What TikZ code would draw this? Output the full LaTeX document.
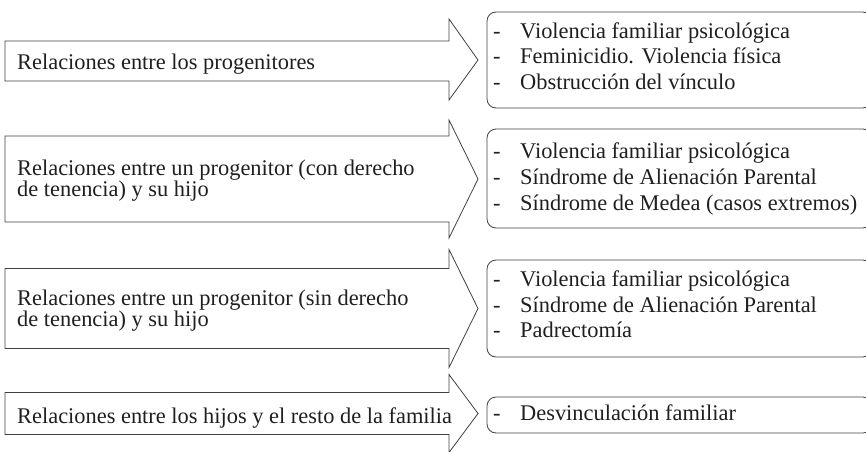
\documentclass[tikz,border=0pt]{standalone}
\usepackage{fontspec}
\setmainfont{Liberation Serif}
\newcommand\listline[3]{%
  \node[lbl] (d#1) at (493,#2) {-};
  \node[lbl] (i#1) at (520,#2) {#3};}
\begin{document}
\begin{tikzpicture}[x=1pt,y=1pt,
  arrowshape/.style={draw=black!75, line width=0.8pt, line join=miter},
  listbox/.style={draw=black!75, line width=0.8pt, rounded corners=9pt},
  lbl/.style={anchor=base west, inner sep=0pt, font=\fontsize{22.4}{16}\selectfont, text=black!88}]
\useasboundingbox (0,0) rectangle (866,451);

% arrows
\draw[arrowshape] (5,410) -- (449,410) -- (449,432) -- (478,391) -- (449,351) -- (449,370) -- (5,370) -- cycle;
\draw[arrowshape] (5,315) -- (449,315) -- (449,331) -- (478,272) -- (449,213) -- (449,229) -- (5,229) -- cycle;
\draw[arrowshape] (5,182.5) -- (449,182.5) -- (449,201.5) -- (478,142.5) -- (449,83.5) -- (449,102.5) -- (5,102.5) -- cycle;
\draw[arrowshape] (5,58.5) -- (449,58.5) -- (449,76.5) -- (478,37.5) -- (449,-1.5) -- (449,16.5) -- (5,16.5) -- cycle;

% boxes
\draw[listbox] (487,439) rectangle (872,343);
\draw[listbox] (487,322) rectangle (872,223);
\draw[listbox] (487,191) rectangle (872,94);
\draw[listbox] (487,54) rectangle (872,18);

% left texts
\node[lbl] (t1) at (17,382) {Relaciones entre los progenitores};
\node[lbl] (t2a) at (17,276) {Relaciones entre un progenitor (con derecho};
\node[lbl] (t2b) at (17,255) {de tenencia) y su hijo};
\node[lbl] (t3a) at (17,146) {Relaciones entre un progenitor (sin derecho};
\node[lbl] (t3b) at (17,125) {de tenencia) y su hijo};
\node[lbl] (t4) at (17,28) {Relaciones entre los hijos y el resto de la familia};

% lists
\listline{11}{413}{Violencia familiar psicológica}
\listline{12}{387.5}{Feminicidio. Violencia física}
\listline{13}{362}{Obstrucción del vínculo}
\listline{21}{293}{Violencia familiar psicológica}
\listline{22}{267}{Síndrome de Alienación Parental}
\listline{23}{241}{Síndrome de Medea (casos extremos)}
\listline{31}{164.5}{Violencia familiar psicológica}
\listline{32}{139}{Síndrome de Alienación Parental}
\listline{33}{113.5}{Padrectomía}
\listline{41}{31}{Desvinculación familiar}
\end{tikzpicture}
\end{document}
